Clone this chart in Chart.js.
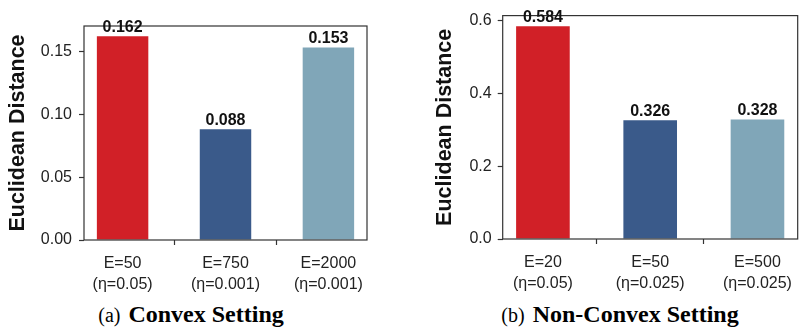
<!DOCTYPE HTML>
<html lang="en">
<head>
  <meta http-equiv="content-type" content="text/html; charset=UTF-8">
  <script src="https://cdn.jsdelivr.net/npm/chart.js"></script>
  <style>
    body { margin:0; width:800px; height:328px; overflow:hidden; background:#fff; }
    .panel { position:absolute; top:0; width:400px; height:300px; }
    .caption { position:absolute; top:302px; font-family:"Liberation Serif","Times New Roman",serif;
               font-size:24px; line-height:24px; color:#000; white-space:nowrap; transform:translateX(-50%); }
    .caption span { font-size:20px; }
    .caption b { margin-left:8px; }
  </style>
</head>
<body>
  <div class="panel" style="left:0"><canvas id="chart_a" width="400" height="300"></canvas></div>
  <div class="panel" style="left:400px"><canvas id="chart_b" width="400" height="300"></canvas></div>
  <div class="caption" style="left:191px"><span>(a)</span><b>Convex Setting</b></div>
  <div class="caption" style="left:620px"><span>(b)</span><b>Non-Convex Setting</b></div>

  <script>
    // data //
    const convexLabels = [['E=50', '(η=0.05)'], ['E=750', '(η=0.001)'], ['E=2000', '(η=0.001)']];
    const convexValues = [0.162, 0.088, 0.153];
    const convexTicks = [0, 0.05, 0.10, 0.15];

    const nonConvexLabels = [['E=20', '(η=0.05)'], ['E=50', '(η=0.025)'], ['E=500', '(η=0.025)']];
    const nonConvexValues = [0.584, 0.326, 0.328];
    const nonConvexTicks = [0, 0.2, 0.4, 0.6];

    const barColors = ['#d12027', '#3a5a8a', '#80a6b8'];

    const sans = "'Liberation Sans', Arial, sans-serif";

    // frame around plot area + value labels on top of bars
    const framePlugin = {
        id: 'frame',
        afterDraw(chart) {
            const {ctx, chartArea: a} = chart;
            ctx.save();
            ctx.strokeStyle = '#333';
            ctx.lineWidth = 1.2;
            ctx.strokeRect(a.left, a.top, a.right - a.left, a.bottom - a.top);
            ctx.fillStyle = '#111';
            ctx.font = 'bold 16px ' + sans;
            ctx.textAlign = 'center';
            ctx.textBaseline = 'bottom';
            const meta = chart.getDatasetMeta(0);
            meta.data.forEach((bar, i) => {
                const v = chart.data.datasets[0].data[i].y;
                ctx.fillText(v.toFixed(3), bar.x, bar.y - 1);
            });
            ctx.restore();
        }
    };

    function makeChart(id, labels, values, yTicks, yMax, digits, g) {
        new Chart(document.getElementById(id), {
            type: 'bar',
            data: {
                datasets: [{
                    data: values.map((v, i) => ({x: i, y: v})),
                    backgroundColor: barColors,
                    barPercentage: 0.5,
                    categoryPercentage: 1.0,
                }],
            },
            options: {
                responsive: false,
                animation: false,
                layout: { padding: { top: g.top, right: g.right, left: 0, bottom: 0 } },
                plugins: { legend: { display: false }, tooltip: { enabled: false } },
                scales: {
                    x: {
                        type: 'linear',
                        offset: false,
                        min: -0.375,
                        max: 2.375,
                        afterBuildTicks: s => { s.ticks = labels.map((_, i) => ({value: i})); },
                        afterFit: s => { s.height = g.xHeight; },
                        border: { display: false },
                        grid: { drawOnChartArea: false, tickLength: 5, color: '#333', tickWidth: 1.2 },
                        ticks: {
                            callback: v => labels[v],
                            color: '#222',
                            padding: 8,
                            maxRotation: 0,
                            font: { family: sans, size: 16, lineHeight: 1.3 },
                        },
                    },
                    y: {
                        min: 0,
                        max: yMax,
                        afterBuildTicks: s => { s.ticks = yTicks.map(v => ({value: v})); },
                        afterFit: s => { s.width = g.yWidth; },
                        border: { display: false },
                        grid: { drawOnChartArea: false, tickLength: 5, color: '#333', tickWidth: 1.2 },
                        ticks: {
                            callback: v => v.toFixed(digits),
                            color: '#222',
                            padding: g.tickPad,
                            font: { family: sans, size: 16 },
                        },
                        title: {
                            display: true,
                            text: 'Euclidean Distance',
                            color: '#111',
                            padding: { top: g.titlePad, bottom: 0 },
                            font: { family: sans, size: 21.5, weight: 'bold', lineHeight: 1.2 },
                        },
                    },
                },
            },
            plugins: [framePlugin],
        });
    }

    makeChart('chart_a', convexLabels, convexValues, convexTicks, 0.1701, 2,
              { top: 26, right: 33, xHeight: 60, yWidth: 84, tickPad: 7, titlePad: 5 });
    makeChart('chart_b', nonConvexLabels, nonConvexValues, nonConvexTicks, 0.6132, 1,
              { top: 13, right: 0.5, xHeight: 61, yWidth: 102.7, tickPad: 6, titlePad: 32 });
  </script>
</body>
</html>
